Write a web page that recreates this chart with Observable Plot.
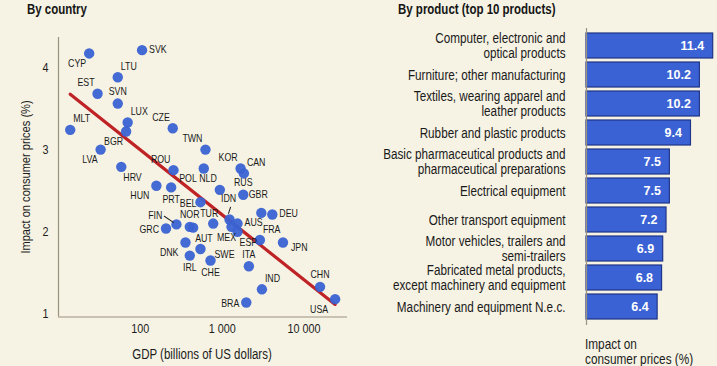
<!DOCTYPE html>
<html><head><meta charset="utf-8">
<script src="https://cdn.jsdelivr.net/npm/d3@7"></script>
<script src="https://cdn.jsdelivr.net/npm/@observablehq/plot@0.6"></script>
<style>
body{margin:0;background:#f6f3e4;}
#wrap{position:relative;width:717px;height:366px;overflow:hidden;font-family:"Liberation Sans",Arial,sans-serif;color:#1c1c1c;}
#wrap svg{position:absolute;top:0;overflow:visible;}
.abs{position:absolute;white-space:nowrap;}
.title{font-weight:bold;font-size:14px;color:#151515;}
</style></head><body><div id="wrap"></div>
<script>
// ---- Data: by country ----
const countries = ["CYP","SVK","LTU","EST","SVN","LUX","BGR","MLT","CZE","LVA","HRV","ROU","TWN","POL","KOR","CAN","HUN","PRT","NLD","RUS","BEL","GBR","DEU","IDN","AUS","MEX","ESP","TUR","FIN","NOR","AUT","GRC","DNK","SWE","IRL","CHE","FRA","JPN","ITA","IND","BRA","CHN","USA"];
const gdp = [23.7,105,53,30,53,70,67,13.9,249,32.7,58.5,254,625,596,1679,1842,157,238,936,1811,543,3007,4100,1230,1540,1300,1540,777,276,402,442,206,356,543,402,720,2891,5534,2120,3060,1970,15700,24000];
const impact = [4.17,4.21,3.88,3.68,3.56,3.33,3.22,3.24,3.26,3.00,2.79,2.75,3.00,2.77,2.77,2.71,2.56,2.54,2.51,2.45,2.36,2.23,2.21,2.15,2.10,2.06,2.00,2.10,2.09,2.06,2.05,2.04,1.87,1.79,1.71,1.65,1.90,1.87,1.58,1.30,1.14,1.33,1.18];
// label placement hint per country (compass code)
const labelDir = ["sw","e","ne","nw","n","ne","sw","ne","nw","sw","se","nw","nw","swx","nw","ne","swx","s","nw","n","wc","n2","e","ln","e","s2","se","n3","lw","n","se","w","swx","e2","s","s","ne","e3","n","ne","w","n","swx"];
const xTicks = [100, 1000, 10000];
const yTicks = [1, 2, 3, 4];

// ---- Data: by product ----
const products = ["Computer, electronic and\noptical products","Furniture; other manufacturing","Textiles, wearing apparel and\nleather products","Rubber and plastic products","Basic pharmaceutical products and\npharmaceutical preparations","Electrical equipment","Other transport equipment","Motor vehicles, trailers and\nsemi-trailers","Fabricated metal products,\nexcept machinery and equipment","Machinery and equipment N.e.c."];
const productImpact = [11.4,10.2,10.2,9.4,7.5,7.5,7.2,6.9,6.8,6.4];

// ---- styling ----
const FONT = '"Liberation Sans",Arial,sans-serif';
const NARROW = 0.82;
const AXIS = "#9c9280";
const DOT = "#3a62d2";
const placement = {
  n:[0,-12,"middle"], s:[0,12,"middle"], e:[7,-1,"start"], w:[-7,1,"end"], wc:[-4,1,"end"],
  ne:[3,-11,"start"], nw:[-3,-11,"end"], se:[2,11,"start"], sw:[-3,10,"end"], swx:[-7,10,"end"],
  n2:[-3,-18,"middle"], n3:[-4,-10,"middle"], s2:[-5,11,"middle"], e2:[14,5,"start"], e3:[8,5,"start"],
  ln:[-1,-21,"middle"], lw:[-14,-9,"end"]
};
const leaders = {ln:{dx:-1,dy:-6,rotate:18,length:6.5}, lw:{dx:-3,dy:-2,rotate:-56,length:11}};

const data = countries.map((c,i)=>({country:c, gdp:gdp[i], impact:impact[i], dir:labelDir[i]}));

// regression of impact on log10(GDP)
const lx = gdp.map(Math.log10);
const mx = d3.mean(lx), my = d3.mean(impact);
const slope = d3.sum(lx.map((v,i)=>(v-mx)*(impact[i]-my))) / d3.sum(lx.map(v=>(v-mx)**2));
const icpt = my - slope*mx;
const trend = d3.extent(gdp).map(g=>({gdp:g, impact:icpt + slope*Math.log10(g)}));

const xDomain = [10, 34000], yDomain = [0.963, 4.364];
const labelMarks = Object.entries(placement).map(([code,[dx,dy,anchor]]) =>
  Plot.text(data.filter(d=>d.dir===code), {x:"gdp", y:"impact", text:"country", dx, dy, textAnchor:anchor, fontSize:11, fill:"#1a1a1a"}));
const leaderShape = {draw(ctx, l){ ctx.moveTo(0,0); ctx.lineTo(0,-l); }};
const leaderMarks = Object.entries(leaders).map(([code,o]) =>
  Plot.vector(data.filter(d=>d.dir===code), {x:"gdp", y:"impact", dx:o.dx, dy:o.dy, rotate:o.rotate, length:o.length, anchor:"start", shape:leaderShape, stroke:"#222", strokeWidth:1}));

const left = Plot.plot({
  width:360, height:366,
  marginLeft:58, marginRight:13, marginTop:37, marginBottom:49.5,
  style:{background:"transparent", fontFamily:FONT, fontSize:"13.5px", color:"#1c1c1c"},
  x:{type:"log", domain:xDomain, ticks:xTicks, tickFormat:d=>d3.format(",")(d).replace(/,/g," "), tickSize:0, tickPadding:6, label:null},
  y:{domain:yDomain, ticks:yTicks, tickFormat:"d", tickSize:0, tickPadding:10, label:null},
  marks:[
    Plot.ruleX([xDomain[0]], {stroke:AXIS, strokeWidth:1.2}),
    Plot.ruleY([yDomain[0]], {stroke:AXIS, strokeWidth:1.2}),
    Plot.line(trend, {x:"gdp", y:"impact", stroke:"#bf2326", strokeWidth:3.2}),
    Plot.dot(data, {x:"gdp", y:"impact", r:5.2, fill:DOT, fillOpacity:0.95}),
    ...leaderMarks,
    ...labelMarks
  ]
});
left.style.left = "0px";

const prodData = products.map((p,i)=>({name:p, value:productImpact[i]}));
const right = Plot.plot({
  width:357, height:366,
  marginLeft:226, marginRight:4.3, marginTop:28, marginBottom:41,
  style:{background:"transparent", fontFamily:FONT, fontSize:"14.3px", color:"#1c1c1c"},
  x:{domain:[0, d3.max(productImpact)], axis:null},
  y:{domain:products, paddingInner:0.13, paddingOuter:0.14, axis:null},
  marks:[
    Plot.barX(prodData, {x:"value", y:"name", fill:"#3b62d4", stroke:"#1f3587", strokeWidth:1.2}),
    Plot.ruleX([0], {stroke:AXIS, strokeWidth:1.2}),
    Plot.text(prodData, {y:"name", text:"name", frameAnchor:"left", dx:-21, textAnchor:"end", lineHeight:1.05, fontSize:14.3, fill:"#1a1a1a"}),
    Plot.text(prodData, {x:"value", y:"name", text:d=>d.value.toFixed(1), dx:-9, textAnchor:"end", fill:"white", fontWeight:"bold", fontSize:12.5})
  ]
});
right.style.left = "360px";

// narrow the text horizontally (condensed look), keeping anchors in place
function condense(svg, k){
  svg.querySelectorAll("text").forEach(t=>{
    const g = t.closest("g");
    if (g && g.getAttribute("fill")==="white") return;
    const tr = t.getAttribute("transform")||"";
    const xa = t.getAttribute("x");
    const x = xa !== null && isFinite(+xa) ? +xa : 0;
    if (xa !== null && isFinite(+xa)) t.removeAttribute("x");
    t.setAttribute("transform", `${tr} translate(${x},0) scale(${k},1)`);
  });
}
condense(left, 0.8); condense(right, NARROW);

const wrap = document.getElementById("wrap");
wrap.append(left, right);
function addText(html, css, cls){ const d=document.createElement("div"); d.className="abs "+(cls||""); d.innerHTML=html; Object.assign(d.style, css); wrap.append(d); return d; }
addText("By country", {left:"27px", top:"1px", transform:`scaleX(${NARROW})`, transformOrigin:"0 0"}, "title");
addText("By product (top 10 products)", {left:"398px", top:"1px", transform:`scaleX(${NARROW})`, transformOrigin:"0 0"}, "title");
addText("GDP (billions of US dollars)", {left:"202px", top:"346px", fontSize:"14px", transform:`translateX(-50%) scaleX(${NARROW})`});
addText("Impact on consumer prices (%)", {left:"25px", top:"177px", fontSize:"13.5px", transform:`translate(-50%,-50%) rotate(-90deg) scaleX(${NARROW})`});
addText("Impact on<br>consumer prices (%)", {left:"585px", top:"337px", fontSize:"14.4px", lineHeight:"14.5px", transform:`scaleX(${NARROW})`, transformOrigin:"0 0"});
</script>
</body></html>
